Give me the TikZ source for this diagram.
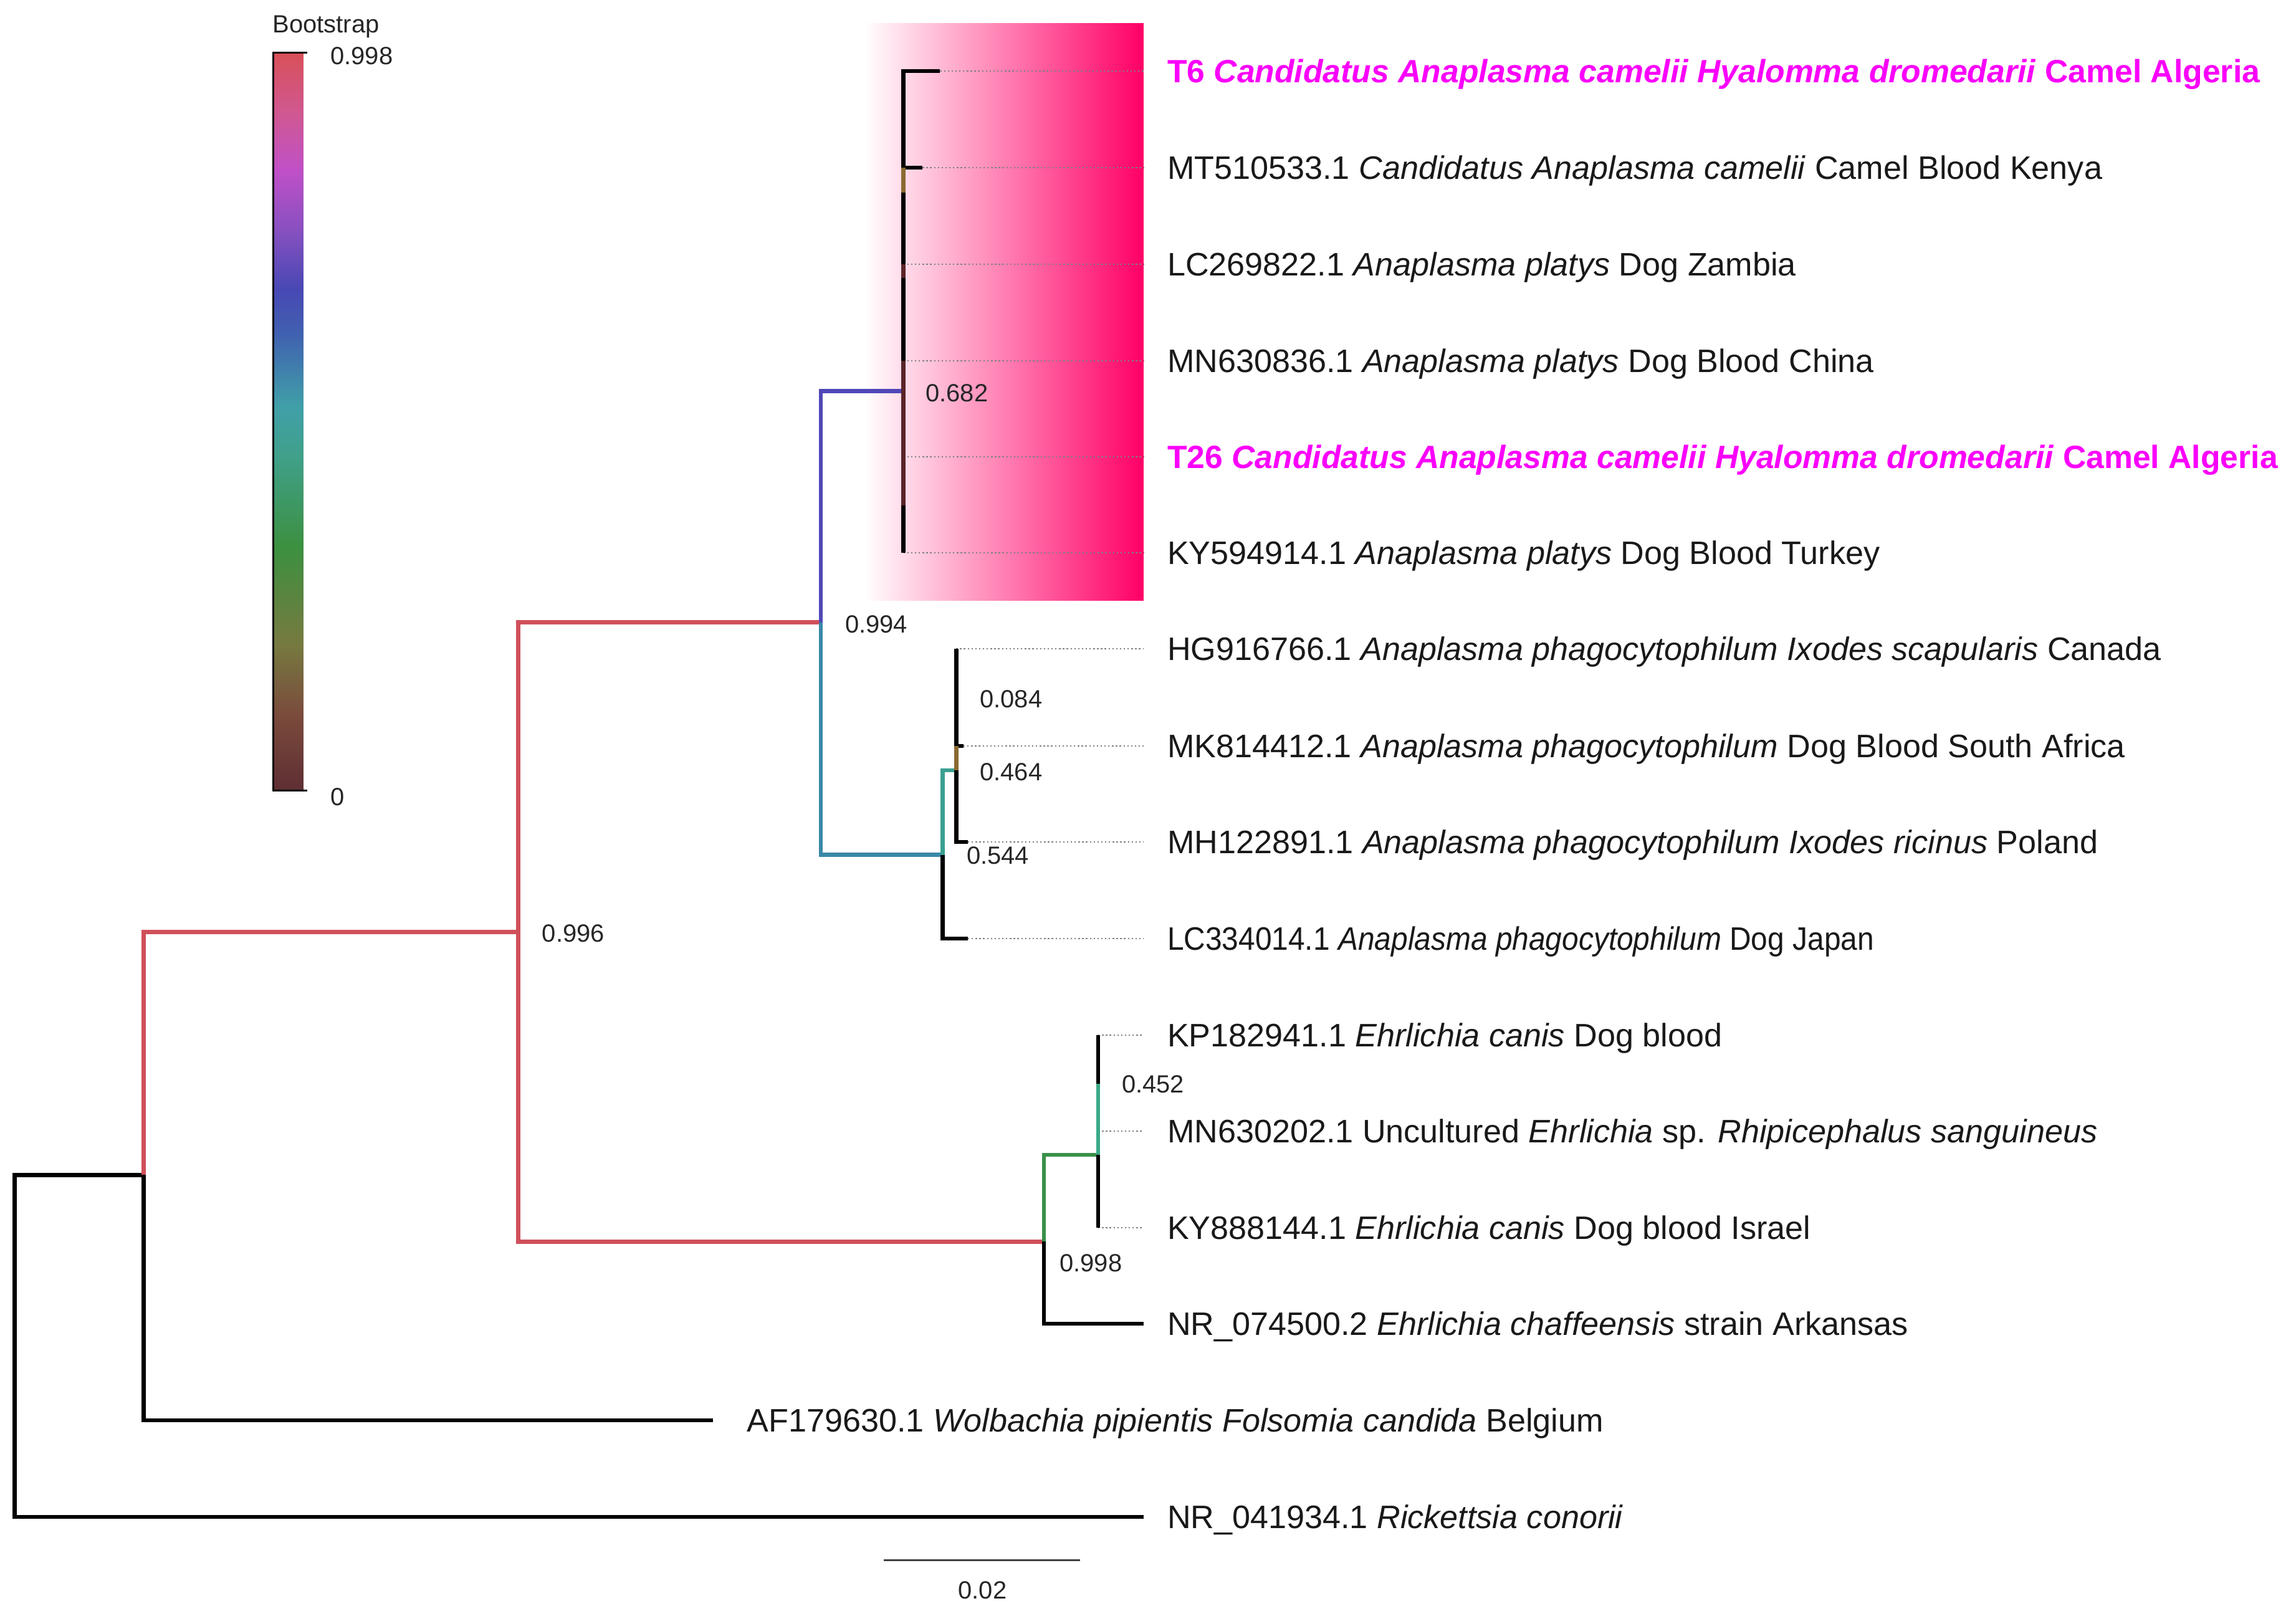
\documentclass[tikz,border=0pt]{standalone}
\usepackage{fontspec}
\setmainfont{Liberation Sans}
\definecolor{cRed}{HTML}{D0505A}
\definecolor{cPur}{HTML}{5048B8}
\definecolor{cTB}{HTML}{3A88A8}
\definecolor{cTeal}{HTML}{3AA090}
\definecolor{cGrn}{HTML}{3A9048}
\definecolor{cTG}{HTML}{3AAA88}
\definecolor{cBrn}{HTML}{8A6A30}
\definecolor{cDR}{HTML}{5A2428}
\definecolor{cPink}{HTML}{FF0066}
\definecolor{cMag}{HTML}{FA00FA}
\definecolor{cb0}{HTML}{5E2E34}
\definecolor{cb1}{HTML}{7A4A3C}
\definecolor{cb2}{HTML}{767A40}
\definecolor{cb3}{HTML}{3C9040}
\definecolor{cb4}{HTML}{40A088}
\definecolor{cb5}{HTML}{40A0A8}
\definecolor{cb6}{HTML}{4060B0}
\definecolor{cb7}{HTML}{4848B4}
\definecolor{cb8}{HTML}{8850C0}
\definecolor{cb9}{HTML}{C050C8}
\definecolor{cb10}{HTML}{D05890}
\definecolor{cb11}{HTML}{D85058}
\pgfdeclareverticalshading{bootbar}{100bp}{color(0bp)=(cb0); color(25bp)=(cb0); color(30bp)=(cb1); color(35bp)=(cb2); color(41.5bp)=(cb3); color(47.5bp)=(cb4); color(51bp)=(cb5); color(56bp)=(cb6); color(59bp)=(cb7); color(63bp)=(cb8); color(67bp)=(cb9); color(71bp)=(cb10); color(75bp)=(cb11); color(100bp)=(cb11)}
\tikzset{
  br/.style={line width=2.8pt, line join=miter},
  blk/.style={br, black},
  dotln/.style={line width=0.9pt, color=black!50, dash pattern=on 1pt off 1.6pt},
  lab/.style={font=\fontsize{22.2}{26}\selectfont, inner sep=0pt, anchor=base west, text=black!90},
  hl/.style={lab, text=cMag, font=\fontsize{22}{26}\selectfont\bfseries},
  val/.style={font=\fontsize{17}{20}\selectfont, inner sep=0pt, anchor=base west, text=black!85},
}
\begin{document}
\begin{tikzpicture}[x=1pt,y=-1pt]
\useasboundingbox (0,0) rectangle (1568,1100);
% highlight box
\fill[left color=white, right color=cPink] (590,16) rectangle (781,410);
% colour bar
\shade[shading=bootbar] (187,36) rectangle (207,540);
\draw[line width=1.3pt] (210,36) -- (186.5,36) -- (186.5,540) -- (210,540);
\node[val] (bsT) at (186,22.3) {Bootstrap};
\node[val] (bs1) at (225.5,43.9) {0.998};
\node[val] (bs0) at (225.5,550.3) {0};

% coordinates
\coordinate (edge) at (781,0);
\coordinate (root) at (10,919);
\coordinate (nH) at (98,802.5);
\coordinate (nE) at (354,636.5);
\coordinate (nB) at (560.5,425);
\coordinate (nA) at (617,267);
\coordinate (nC) at (643.7,583.8);
\coordinate (nD) at (653,526);
\coordinate (nF) at (713,848);
\coordinate (nG) at (750,788.7);
\coordinate (t1) at (642,48.5);
\coordinate (t2) at (630,114.5);
\coordinate (t3) at (617,180.5);
\coordinate (t4) at (617,246.5);
\coordinate (t5) at (617,312);
\coordinate (t6) at (617,377.5);
\coordinate (t7) at (653,443);
\coordinate (t8) at (658,509.5);
\coordinate (t9) at (661,575);
\coordinate (t10) at (661,641);
\coordinate (t11) at (750,707);
\coordinate (t12) at (750,772.5);
\coordinate (t13) at (750,838.5);
\coordinate (t14) at (781,904);
\coordinate (t15) at (487,970);
\coordinate (t16) at (781,1036);
\coordinate (aB1) at (617,131.6);
\coordinate (aB2) at (617,190);
\coordinate (aB3) at (617,345);
\coordinate (g1) at (750,740);

% dotted leaders
\foreach \t in {t1,t2,t3,t4,t5,t6,t7,t8,t9,t10,t11,t12,t13}
  \draw[dotln] (\t) -- (\t -| edge);

% branches
\draw[blk] (nH) -| (root) |- (t16);
\draw[br, cRed] (nH) |- (nE);
\draw[blk] (nH) |- (t15);
\draw[br, cRed] (nB) -| (nE) |- (nF);
\draw[br, cPur] (nA) -| (nB);
\draw[br, cTB] (nB) |- (nC);
% platys clade
\draw[blk] (t1) -- (nA |- t1) -- (nA |- t2) -- (t2);
\draw[br, cBrn] (nA |- t2) -- (aB1);
\draw[blk] (aB1) -- (t3);
\draw[br, cDR] (t3) -- (aB2);
\draw[blk] (aB2) -- (t4);
\draw[br, cDR] (t4) -- (aB3);
\draw[blk] (aB3) -- (t6);
% phagocytophilum clade
\draw[br, cTeal] (nD) -| (nC);
\draw[blk] (nC) |- (t10);
\draw[blk] (t7) -- (nD |- t8) -- (t8);
\draw[br, cBrn] (nD |- t8) -- (nD);
\draw[blk] (nD) |- (t9);
% Ehrlichia clade
\draw[br, cGrn] (nG) -| (nF);
\draw[blk] (nF) |- (t14);
\draw[blk] (t11) -- (g1);
\draw[br, cTG] (g1) -- (nG);
\draw[blk] (nG) -- (t13);

% support values
\node[val] (v996) at (370,643.3) {0.996};
\node[val] (v994) at (577,432.3) {0.994};
\node[val] (v682) at (632,274.3) {0.682};
\node[val] (v084) at (669,483.3) {0.084};
\node[val] (v464) at (669,533.3) {0.464};
\node[val] (v544) at (660,590.3) {0.544};
\node[val] (v452) at (766,746.3) {0.452};
\node[val] (v998) at (723.5,868.3) {0.998};

% leaf labels
\node[hl] (l1) at (797,56.4) {T6 \textit{Candidatus Anaplasma camelii Hyalomma dromedarii} Camel Algeria};
\node[lab] (l2) at (797,122.4) {MT510533.1 \textit{Candidatus Anaplasma camelii} Camel Blood Kenya};
\node[lab] (l3) at (797,188.4) {LC269822.1 \textit{Anaplasma platys} Dog Zambia};
\node[lab] (l4) at (797,254.4) {MN630836.1 \textit{Anaplasma platys} Dog Blood China};
\node[hl] (l5) at (797,319.9) {T26 \textit{Candidatus Anaplasma camelii Hyalomma dromedarii} Camel Algeria};
\node[lab] (l6) at (797,385.4) {KY594914.1 \textit{Anaplasma platys} Dog Blood Turkey};
\node[lab] (l7) at (797,450.9) {HG916766.1 \textit{Anaplasma phagocytophilum Ixodes scapularis} Canada};
\node[lab] (l8) at (797,517.4) {MK814412.1 \textit{Anaplasma phagocytophilum} Dog Blood South Africa};
\node[lab] (l9) at (797,582.9) {MH122891.1 \textit{Anaplasma phagocytophilum Ixodes ricinus} Poland};
\node[lab] (l10) at (797,648.9) {\scalebox{0.918}[1]{LC334014.1 \textit{Anaplasma phagocytophilum} Dog Japan}};
\node[lab] (l11) at (797,714.9) {KP182941.1 \textit{Ehrlichia canis} Dog blood};
\node[lab] (l12) at (797,780.4) {MN630202.1 Uncultured \textit{Ehrlichia} sp. \textit{Rhipicephalus sanguineus}};
\node[lab] (l13) at (797,846.4) {KY888144.1 \textit{Ehrlichia canis} Dog blood Israel};
\node[lab] (l14) at (797,911.9) {NR\_074500.2 \textit{Ehrlichia chaffeensis} strain Arkansas};
\node[lab] (l15) at (510,977.9) {AF179630.1 \textit{Wolbachia pipientis Folsomia candida} Belgium};
\node[lab] (l16) at (797,1043.9) {NR\_041934.1 \textit{Rickettsia conorii}};

% scale bar
\coordinate (sb1) at (603.4,1065.4);
\coordinate (sb2) at (737.5,1065.4);
\draw[line width=1.4pt, black!75] (sb1) -- (sb2);
\node[font=\fontsize{17}{20}\selectfont, inner sep=0pt, anchor=base, text=black!85] (sbl) at (671,1091.9) {0.02};
\end{tikzpicture}
\end{document}
